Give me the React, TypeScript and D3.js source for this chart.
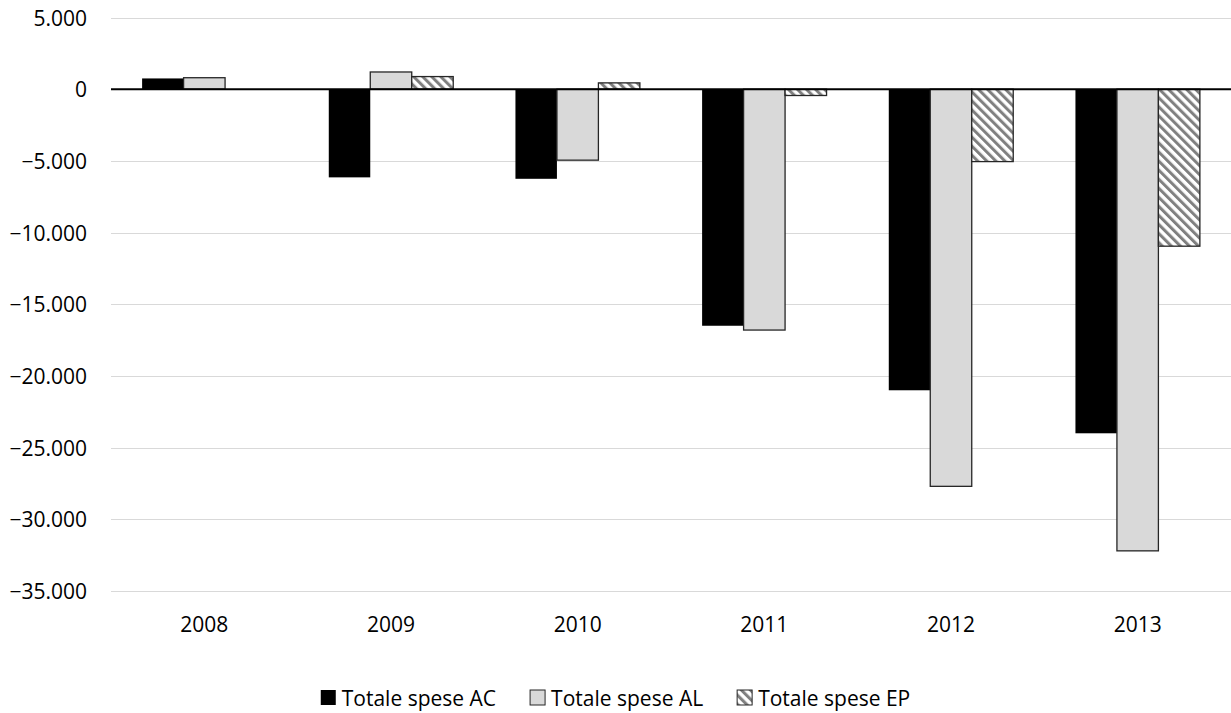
import React, { useEffect, useRef } from "react";
import * as d3 from "d3";

const categories = ["2008", "2009", "2010", "2011", "2012", "2013"];
const seriesNames = ["Totale spese AC", "Totale spese AL", "Totale spese EP"];
const valuesAC = [750, -6150, -6250, -16500, -21000, -24000];
const valuesAL = [800, 1200, -4950, -16800, -27700, -32200];
const valuesEP = [0, 880, 440, -440, -5050, -10950];
const yTicks = [5000, 0, -5000, -10000, -15000, -20000, -25000, -30000, -35000];

const W = 1231;
const H = 713;
const FONT = "'Open Sans', 'Liberation Sans', sans-serif";

export default function App() {
  const ref = useRef<SVGSVGElement | null>(null);

  useEffect(() => {
    document.body.style.margin = "0";
    const svg = d3.select(ref.current);
    svg.selectAll("*").remove();

    const left = 111;
    const right = 1231;
    const top = 17.5;
    const bottom = 591;

    const x = d3.scaleBand<string>().domain(categories).range([left, right]).paddingInner(0).paddingOuter(0);
    const y = d3.scaleLinear().domain([-35000, 5000]).range([bottom, top]);

    const defs = svg.append("defs");
    const pat = defs
      .append("pattern")
      .attr("id", "hatch")
      .attr("patternUnits", "userSpaceOnUse")
      .attr("width", 6.4)
      .attr("height", 6.4)
      .attr("patternTransform", "rotate(-45)");
    pat.append("rect").attr("width", 6.4).attr("height", 6.4).attr("fill", "#ffffff");
    pat.append("rect").attr("width", 3).attr("height", 6.4).attr("fill", "#808080");

    // gridlines
    svg
      .append("g")
      .selectAll("line")
      .data(yTicks.filter((t) => t !== 0))
      .join("line")
      .attr("x1", left)
      .attr("x2", right)
      .attr("y1", (d) => Math.round(y(d)) + 0.5)
      .attr("y2", (d) => Math.round(y(d)) + 0.5)
      .attr("stroke", "#d9d9d9")
      .attr("stroke-width", 1);

    // y labels
    svg
      .append("g")
      .selectAll("text")
      .data(yTicks)
      .join("text")
      .attr("x", 87)
      .attr("y", (d) => y(d))
      .attr("text-anchor", "end")
      .attr("dominant-baseline", "central")
      .attr("font-family", FONT)
      .attr("font-size", 21)
      .attr("fill", "#000")
      .text((d) => d3.format(",")(d).replace(/,/g, "."));

    // x labels
    svg
      .append("g")
      .selectAll("text")
      .data(categories)
      .join("text")
      .attr("x", (d) => (x(d) as number) + x.bandwidth() / 2)
      .attr("y", 624)
      .attr("text-anchor", "middle")
      .attr("dominant-baseline", "central")
      .attr("font-family", FONT)
      .attr("font-size", 21)
      .attr("fill", "#000")
      .text((d) => d);

    const inner = d3
      .scaleBand<string>()
      .domain(seriesNames)
      .range([0, x.bandwidth()])
      .paddingInner(0)
      .paddingOuter(0.75);

    const styles = [
      { fill: "#000000", stroke: "#000000" },
      { fill: "#d9d9d9", stroke: "#262626" },
      { fill: "url(#hatch)", stroke: "#262626" },
    ];
    const all = [valuesAC, valuesAL, valuesEP];

    all.forEach((vals, si) => {
      svg
        .append("g")
        .selectAll("rect")
        .data(vals.map((v, i) => ({ v, c: categories[i] })).filter((d) => d.v !== 0))
        .join("rect")
        .attr("x", (d) => (x(d.c) as number) + (inner(seriesNames[si]) as number))
        .attr("width", inner.bandwidth())
        .attr("y", (d) => Math.min(y(d.v), y(0)))
        .attr("height", (d) => Math.abs(y(d.v) - y(0)))
        .attr("fill", styles[si].fill)
        .attr("stroke", styles[si].stroke)
        .attr("stroke-width", si === 0 ? 0 : 1.3);
    });

    // zero line
    svg
      .append("line")
      .attr("x1", left)
      .attr("x2", right)
      .attr("y1", y(0))
      .attr("y2", y(0))
      .attr("stroke", "#000")
      .attr("stroke-width", 2);

    // legend
    const lg = svg.append("g");
    const items = lg
      .selectAll("g")
      .data(seriesNames)
      .join("g");
    items
      .append("rect")
      .attr("width", 15)
      .attr("height", 15)
      .attr("y", 690)
      .attr("fill", (_, i) => styles[i].fill)
      .attr("stroke", (_, i) => (i === 0 ? "none" : styles[i].stroke))
      .attr("stroke-width", 1);
    const texts = items
      .append("text")
      .attr("x", 21)
      .attr("y", 697.5)
      .attr("dominant-baseline", "central")
      .attr("font-family", FONT)
      .attr("font-size", 21)
      .attr("fill", "#000")
      .text((d) => d);
    const widths: number[] = [];
    texts.each(function () {
      widths.push((this as SVGTextElement).getComputedTextLength());
    });
    const gap = 34;
    const itemW = widths.map((w) => 21 + w);
    const total = d3.sum(itemW) + gap * (itemW.length - 1);
    let cx = W / 2 - total / 2;
    items.each(function (_, i) {
      d3.select(this).attr("transform", `translate(${cx},0)`);
      cx += itemW[i] + gap;
    });
  }, []);

  return <svg ref={ref} width={W} height={H} style={{ display: "block" }} />;
}
